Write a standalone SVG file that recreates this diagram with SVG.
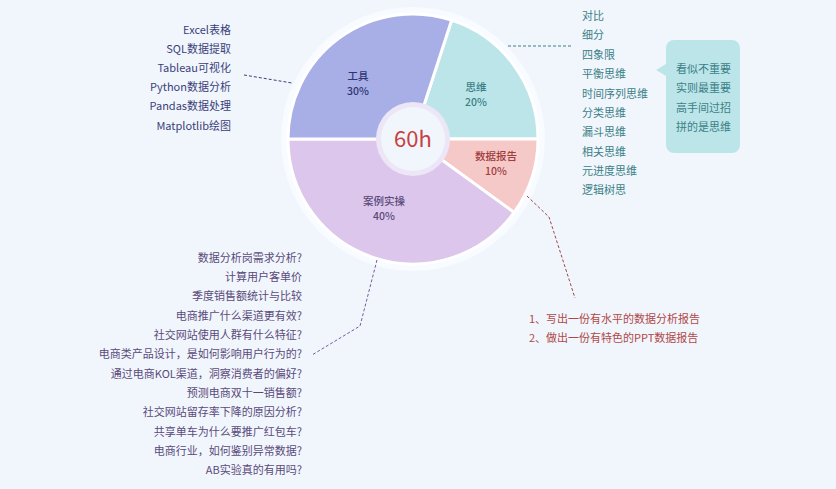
<svg xmlns="http://www.w3.org/2000/svg" width="836" height="489" viewBox="0 0 836 489">
<style>
text{font-family:"Noto Sans CJK SC","Noto Sans",sans-serif;font-size:11px}
.l{fill:#3a3f7a;text-anchor:end}
.r{fill:#3b7f86}
.b{fill:#5a4a7a;text-anchor:end}
.d{fill:#b04848}
.c{text-anchor:middle;font-size:10.5px;font-weight:500}
.dash{fill:none;stroke-width:1;stroke-dasharray:3 2}
</style>
<rect width="836" height="489" fill="#f1f6fd"/>
<g id="pie">
<circle cx="413" cy="139" r="132" fill="#f8fbff"/>
<path d="M413,139 L451.6,20.1 A125,125 0 0,1 538,139 Z" fill="#bce5e9" stroke="#fff" stroke-width="3"/>
<path d="M413,139 L538,139 A125,125 0 0,1 514.1,212.5 Z" fill="#f6c9c9" stroke="#fff" stroke-width="3"/>
<path d="M413,139 L514.1,212.5 A125,125 0 0,1 288,139 Z" fill="#dcc6ec" stroke="#fff" stroke-width="3"/>
<path d="M413,139 L288,139 A125,125 0 0,1 451.6,20.1 Z" fill="#a8aee6" stroke="#fff" stroke-width="3"/>
<circle cx="413" cy="139" r="37" fill="#ece6f6"/>
<circle cx="413" cy="139" r="32" fill="#f1f6fd"/>
<text x="413" y="147" text-anchor="middle" fill="#c94040" style="font-size:22px">60h</text>
<text x="358" y="80" class="c" fill="#2e3570">工具</text><text x="358" y="95" class="c" fill="#2e3570">30%</text>
<text x="476" y="91" class="c" fill="#3b7f86">思维</text><text x="476" y="106" class="c" fill="#3b7f86">20%</text>
<text x="496" y="160" class="c" fill="#a03c3c">数据报告</text><text x="496" y="175" class="c" fill="#a03c3c">10%</text>
<text x="384" y="205" class="c" fill="#5a4a7a">案例实操</text><text x="384" y="220" class="c" fill="#5a4a7a">40%</text>
</g>
<g id="connectors">
<polyline class="dash" stroke="#3a3f7a" points="244,75 292,83"/>
<polyline class="dash" stroke="#3b7f86" points="508,46 572,46"/>
<polyline class="dash" stroke="#7a5a9a" points="377,260 360,326 312,355"/>
<polyline class="dash" stroke="#a04848" points="527,196 549,217 575,298"/>
</g>
<g id="tools">
<text x="231" y="34" class="l">Excel表格</text>
<text x="231" y="53" class="l">SQL数据提取</text>
<text x="231" y="72" class="l">Tableau可视化</text>
<text x="231" y="91" class="l">Python数据分析</text>
<text x="231" y="110" class="l">Pandas数据处理</text>
<text x="231" y="130" class="l">Matplotlib绘图</text>
</g>
<g id="thinking">
<text x="582" y="20" class="r">对比</text>
<text x="582" y="39" class="r">细分</text>
<text x="582" y="59" class="r">四象限</text>
<text x="582" y="78" class="r">平衡思维</text>
<text x="582" y="98" class="r">时间序列思维</text>
<text x="582" y="117" class="r">分类思维</text>
<text x="582" y="136" class="r">漏斗思维</text>
<text x="582" y="156" class="r">相关思维</text>
<text x="582" y="175" class="r">元进度思维</text>
<text x="582" y="194" class="r">逻辑树思</text>
</g>
<g id="callout">
<path d="M674,40 H732 A8,8 0 0 1 740,48 V145 A8,8 0 0 1 732,153 H674 A8,8 0 0 1 666,145 V76 L656,70 L666,64 V48 A8,8 0 0 1 674,40 Z" fill="#bce5e9"/>
<text x="676" y="73" class="r">看似不重要</text>
<text x="676" y="92" class="r">实则最重要</text>
<text x="676" y="112" class="r">高手间过招</text>
<text x="676" y="131" class="r">拼的是思维</text>
</g>
<g id="report">
<text x="529" y="323" class="d">1、写出一份有水平的数据分析报告</text>
<text x="529" y="342" class="d">2、做出一份有特色的PPT数据报告</text>
</g>
<g id="cases">
<text x="302" y="262" class="b">数据分析岗需求分析?</text>
<text x="302" y="281" class="b">计算用户客单价</text>
<text x="302" y="300" class="b">季度销售额统计与比较</text>
<text x="302" y="320" class="b">电商推广什么渠道更有效?</text>
<text x="302" y="339" class="b">社交网站使用人群有什么特征?</text>
<text x="302" y="358" class="b">电商类产品设计，是如何影响用户行为的?</text>
<text x="302" y="378" class="b">通过电商KOL渠道，洞察消费者的偏好?</text>
<text x="302" y="397" class="b">预测电商双十一销售额?</text>
<text x="302" y="416" class="b">社交网站留存率下降的原因分析?</text>
<text x="302" y="436" class="b">共享单车为什么要推广红包车?</text>
<text x="302" y="455" class="b">电商行业，如何鉴别异常数据?</text>
<text x="302" y="474" class="b">AB实验真的有用吗?</text>
</g>
</svg>
